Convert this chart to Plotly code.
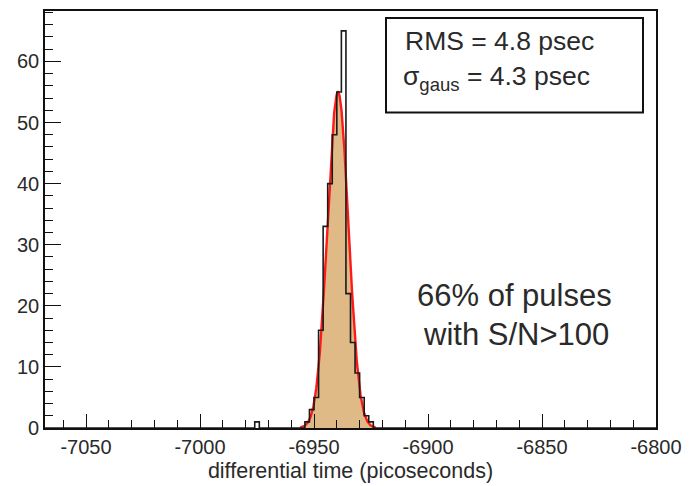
import numpy as np
import plotly.graph_objects as go

# ---- data ----
HIST_RANGE = [-7068, -6800]
BIN_WIDTH = 2
BIN_LEFT = [-6976, -6954, -6952, -6950, -6948, -6946, -6944, -6942, -6940,
            -6938, -6936, -6934, -6932, -6930, -6928, -6926]
COUNTS = [1, 1, 3, 5, 16, 33, 40, 48, 55, 65, 22, 14, 9, 5, 2, 1]

GAUSS_AMP = 55.0
GAUSS_MEAN = -6939.5
GAUSS_SIGMA = 4.6
FIT_RANGE = [-6956, -6923]

X_TICKS = [-7050, -7000, -6950, -6900, -6850, -6800]
Y_TICKS = [0, 10, 20, 30, 40, 50, 60]
Y_MAX = 68.25

STATS_LINES = ["RMS = 4.8 psec", "σ<sub>gaus</sub> = 4.3 psec"]
NOTE_LINES = ["66% of pulses", "with S/N>100"]
X_TITLE = "differential time (picoseconds)"

# ---- build histogram outline ----
lookup = dict(zip(BIN_LEFT, COUNTS))
edges = np.arange(HIST_RANGE[0], HIST_RANGE[1] + BIN_WIDTH, BIN_WIDTH)
vals = [lookup.get(int(e), 0) for e in edges[:-1]]
hx = list(edges)
hy = vals + [vals[-1]]

gx = np.linspace(FIT_RANGE[0], FIT_RANGE[1], 300)
gy = GAUSS_AMP * np.exp(-0.5 * ((gx - GAUSS_MEAN) / GAUSS_SIGMA) ** 2)

FONT = "Liberation Sans, Arial, Helvetica, sans-serif"
TXT = "#2a2a2a"

fig = go.Figure()
fig.add_trace(go.Scatter(x=gx, y=gy, mode="lines", fill="tozeroy",
                         fillcolor="rgb(224,186,134)",
                         line=dict(color="#ff1a1a", width=2.4),
                         hoverinfo="skip", showlegend=False))
fig.add_trace(go.Scatter(x=hx, y=hy, mode="lines", line_shape="hv",
                         line=dict(color="#1a1a1a", width=1.6),
                         showlegend=False))

fig.update_layout(
    width=689, height=486,
    margin=dict(l=45, r=33, t=11, b=58, autoexpand=False),
    paper_bgcolor="white", plot_bgcolor="white",
    font=dict(family=FONT, color=TXT, size=20),
)
fig.update_xaxes(
    range=HIST_RANGE, showgrid=False, zeroline=False, automargin=False,
    showline=True, mirror=True, linecolor="#111", linewidth=1.6,
    tickvals=X_TICKS, ticktext=[str(v) for v in X_TICKS],
    ticks="inside", ticklen=14, tickwidth=1.4, tickcolor="#111",
    minor=dict(dtick=10, tick0=-7050, ticks="inside", ticklen=8,
               tickwidth=1.3, tickcolor="#111", showgrid=False),
    tickfont=dict(size=20, family=FONT, color=TXT),
    title=dict(text=X_TITLE, font=dict(size=21.5, family=FONT, color=TXT),
               standoff=6),
)
fig.update_yaxes(
    range=[0, Y_MAX], showgrid=False, zeroline=False, automargin=False,
    showline=True, mirror=True, linecolor="#111", linewidth=1.6,
    tickvals=Y_TICKS, ticktext=[str(v) for v in Y_TICKS],
    ticks="inside", ticklen=16, tickwidth=1.4, tickcolor="#111",
    minor=dict(dtick=2, tick0=0, ticks="inside", ticklen=8,
               tickwidth=1.3, tickcolor="#111", showgrid=False),
    tickfont=dict(size=20, family=FONT, color=TXT),
)

# stats box
PW, PH = 611.0, 417.0
def px(x):
    return (x - 45) / PW
def py(y):
    return (428 - y) / PH

fig.add_shape(type="rect", xref="paper", yref="paper",
              x0=px(386), x1=px(643), y0=py(112.5), y1=py(18),
              line=dict(color="#111", width=2), fillcolor="white", layer="above")
fig.add_annotation(xref="paper", yref="paper", x=px(499), y=py(41),
                   text=STATS_LINES[0], showarrow=False,
                   font=dict(size=26.5, family=FONT, color=TXT),
                   xanchor="center", yanchor="middle")
fig.add_annotation(xref="paper", yref="paper", x=px(497), y=py(78),
                   text=STATS_LINES[1], showarrow=False,
                   font=dict(size=26.5, family=FONT, color=TXT),
                   xanchor="center", yanchor="middle")
fig.add_annotation(xref="paper", yref="paper", x=px(514), y=py(295),
                   text=NOTE_LINES[0], showarrow=False,
                   font=dict(size=31, family=FONT, color=TXT),
                   xanchor="center", yanchor="middle")
fig.add_annotation(xref="paper", yref="paper", x=px(516), y=py(334),
                   text=NOTE_LINES[1], showarrow=False,
                   font=dict(size=31, family=FONT, color=TXT),
                   xanchor="center", yanchor="middle")

fig.write_html("out.html")
